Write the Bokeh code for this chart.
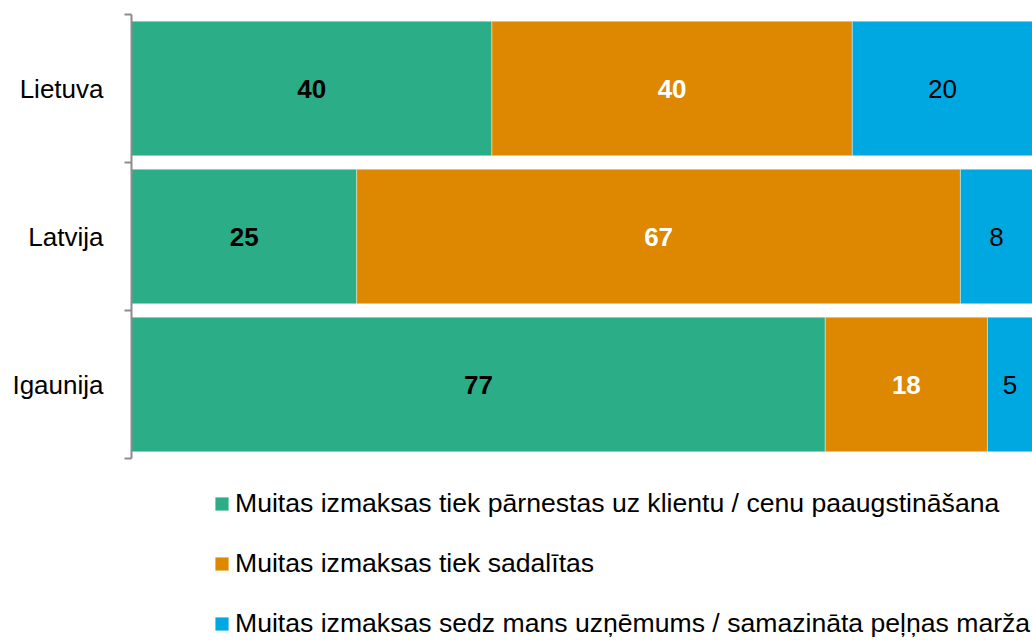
from bokeh.plotting import figure
from bokeh.models import ColumnDataSource, FixedTicker, Legend, LegendItem, Range1d
from bokeh.core.properties import value
from bokeh.embed import file_html
from bokeh.resources import INLINE

# Data (bottom to top)
countries = ["Igaunija", "Latvija", "Lietuva"]
passed_on = [77, 25, 40]
shared = [18, 67, 40]
absorbed = [5, 8, 20]
series_names = [
    "Muitas izmaksas tiek pārnestas uz klientu / cenu paaugstināšana",
    "Muitas izmaksas tiek sadalītas",
    "Muitas izmaksas sedz mans uzņēmums / samazināta peļņas marža",
]
colors = ["#2BAE87", "#DD8800", "#00A8E1"]
label_colors = ["#000000", "#FFFFFF", "#000000"]
label_styles = ["bold", "bold", "normal"]

FONT = "Liberation Sans"

W, H = 1032, 640
TOP, BARS_BOTTOM, LEFT = 14, 458, 131
n = len(countries)
# extend the y range downward so the legend can sit inside the frame, below the bars
y_start = -n * (H - BARS_BOTTOM) / (BARS_BOTTOM - TOP)

p = figure(width=W, height=H, x_range=Range1d(0, 100), y_range=Range1d(y_start, n),
           output_backend="svg", toolbar_location=None, x_axis_location=None,
           min_border_left=LEFT, min_border_right=0, min_border_top=TOP, min_border_bottom=0)
p.outline_line_color = None
p.grid.visible = False

ypos = [i + 0.5 for i in range(n)]
series = [passed_on, shared, absorbed]
lefts = [0.0] * n
items = []
for k, vals in enumerate(series):
    rights = [l + v for l, v in zip(lefts, vals)]
    mids = [l + v / 2 for l, v in zip(lefts, vals)]
    src = ColumnDataSource(dict(y=ypos, left=lefts, right=rights, mid=mids,
                                txt=[str(v) for v in vals]))
    r = p.hbar(y="y", left="left", right="right", height=0.91, source=src,
               fill_color=colors[k], line_color="white", line_alpha=0.4, line_width=1)
    p.text(x="mid", y="y", text="txt", source=src, text_align="center",
           text_baseline="middle", text_font=value(FONT), text_font_size="26px",
           text_font_style=label_styles[k], text_color=label_colors[k])
    items.append(LegendItem(label=series_names[k], renderers=[r]))
    lefts = rights

ax = p.yaxis[0]
ax.bounds = (0, n)
ax.ticker = FixedTicker(ticks=ypos, minor_ticks=list(range(n + 1)))
ax.major_label_overrides = {y: c for y, c in zip(ypos, countries)}
ax.major_tick_line_color = None
ax.major_tick_out = 0
ax.major_tick_in = 0
ax.minor_tick_out = 7
ax.minor_tick_in = 0
ax.minor_tick_line_color = "#8C8C8C"
ax.minor_tick_line_width = 2
ax.axis_line_color = "#8C8C8C"
ax.axis_line_width = 2
ax.major_label_standoff = 21
ax.major_label_text_font = FONT
ax.major_label_text_font_size = "26px"
ax.major_label_text_color = "#000000"

legend = Legend(items=items, orientation="vertical", location=(82, 1),
                label_text_font=FONT, label_text_font_size="26.6px", label_text_color="#000000",
                glyph_width=17, glyph_height=17, label_standoff=5, label_height=30,
                spacing=29, padding=0, margin=0, border_line_color=None,
                background_fill_alpha=0)
p.add_layout(legend)

open("out.html", "w").write(file_html(p, INLINE))
